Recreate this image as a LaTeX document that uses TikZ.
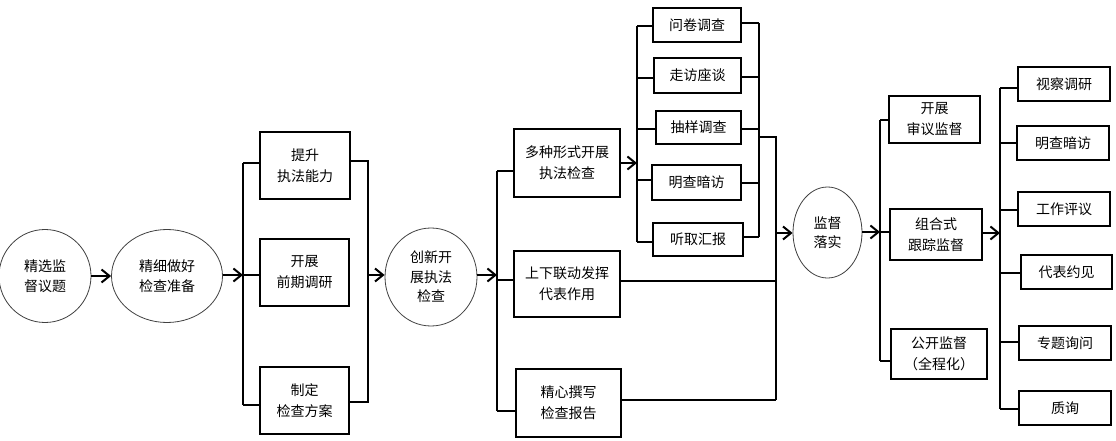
\documentclass[tikz,border=0pt]{standalone}
\usepackage{fontspec}
\newfontfamily\cjk{Noto Sans CJK SC}
\usetikzlibrary{shapes.geometric,arrows.meta}
\begin{document}
\begin{tikzpicture}[x=1pt,y=-1pt,
  every node/.style={font=\cjk\fontsize{14}{21}\selectfont, align=center, inner sep=0pt},
  ell/.style={ellipse, draw=black!75, line width=0.8pt, font=\cjk\fontsize{14}{19.5}\selectfont},
  bx/.style={draw, line width=2pt, minimum width=#1},
  bx/.default=90pt,
  ln/.style={line width=2pt},
  arr/.style={line width=2pt, -{Straight Barb[length=8pt,width=13pt,line width=2pt]}}]
\useasboundingbox (0,0) rectangle (1116,441);
% column 1
\node[ell, minimum width=92pt, minimum height=93pt] (c1) at (45,276) {精选监\\督议题};
\node[ell, minimum width=111pt, minimum height=93pt] (c2) at (167,276) {精细做好\\检查准备};
\draw[arr] (c1.east) -- (c2.west);
% bus 1
\coordinate (b1a) at (243,163);
\coordinate (b1m) at (243,275);
\coordinate (b1b) at (243,405);
\node[bx=90pt, minimum height=67pt] (p1) at (305,165.5) {提升\\执法能力};
\node[bx=89pt, minimum height=67pt] (p2) at (304.5,272.5) {开展\\前期调研};
\node[bx=89pt, minimum height=67pt] (p3) at (304.5,400.5) {制定\\检查方案};
\draw[arr] (c2.east |- b1m) -- (b1m);
\draw[ln] (b1a) -- (b1b);
\draw[ln] (b1a) -- (b1a -| p1.west);
\draw[ln] (b1m) -- (b1m -| p2.west);
\draw[ln] (b1b) -- (b1b -| p3.west);
\coordinate (r1a) at (368,161);
\coordinate (r1m) at (368,275);
\coordinate (r1b) at (368,402);
\draw[ln] (r1a -| p1.east) -- (r1a) -- (r1b) -- (r1b -| p3.east);
% column 3
\node[ell, minimum width=92pt, minimum height=98pt] (c3) at (431,277) {创新开\\展执法\\检查};
\draw[arr] (r1m) -- (r1m -| c3.west);
\coordinate (b2a) at (497,171);
\coordinate (b2m) at (497,275);
\coordinate (b2n) at (497,280);
\coordinate (b2b) at (497,411);
\draw[arr] (b2m -| c3.east) -- (b2m);
\node[bx=106pt, minimum height=68pt] (A) at (567,163) {多种形式开展\\执法检查};
\node[bx=106pt, minimum height=66pt] (B) at (567,284) {上下联动发挥\\代表作用};
\node[bx=105pt, minimum height=68pt] (C) at (568.5,403) {精心撰写\\检查报告};
\draw[ln] (b2a) -- (b2b);
\draw[ln] (b2a) -- (b2a -| A.west);
\draw[ln] (b2n) -- (b2n -| B.west);
\draw[ln] (b2b) -- (b2b -| C.west);
% small boxes
\coordinate (s0) at (637,163);
\draw[arr] (A.east |- s0) -- (s0);
\node[bx=88pt, minimum height=34pt] (s1) at (697,25) {问卷调查};
\node[bx=87pt, minimum height=35pt] (s2) at (697.5,75.5) {走访座谈};
\node[bx=85pt, minimum height=33pt] (s3) at (698.5,127.5) {抽样调查};
\node[bx=89pt, minimum height=35pt] (s4) at (696.5,182.5) {明查暗访};
\node[bx=90pt, minimum height=33pt] (s5) at (698,239.5) {听取汇报};
\coordinate (sl1) at (637,26);
\coordinate (sl2) at (637,78);
\coordinate (sl3) at (637,129);
\coordinate (sl4) at (637,180);
\coordinate (sl5) at (637,242);
\draw[ln] (sl1) -- (sl5);
\foreach \i in {1,...,5} \draw[ln] (sl\i) -- (sl\i -| s\i.west);
\coordinate (sr1) at (759,23);
\coordinate (sr2) at (759,77);
\coordinate (sr3) at (759,129);
\coordinate (sr4) at (759,183);
\coordinate (sr5) at (759,237);
\draw[ln] (sr1) -- (sr5);
\foreach \i in {1,...,5} \draw[ln] (sr\i) -- (sr\i -| s\i.east);
\coordinate (sx) at (759,137);
\coordinate (bt) at (776,137);
\coordinate (bB) at (776,281);
\coordinate (bC) at (776,400);
\coordinate (bm) at (776,233);
\draw[ln] (sx) -- (bt) -- (bC);
\draw[ln] (B.east |- bB) -- (bB);
\draw[ln] (C.east |- bC) -- (bC);
% column 4
\node[ell, minimum width=69pt, minimum height=91pt] (c4) at (827.5,232.5) {监督\\落实};
\draw[arr] (bm) -- (bm -| c4.west);
\coordinate (b3a) at (880,120);
\coordinate (b3m) at (880,232);
\coordinate (b3b) at (880,361);
\draw[arr] (b3m -| c4.east) -- (b3m);
\node[bx=91pt, minimum height=47pt] (R1) at (934.5,119.5) {开展\\审议监督};
\node[bx=92pt, minimum height=51pt] (R2) at (936,234.5) {组合式\\跟踪监督};
\node[bx=96pt, minimum height=50pt] (R3) at (939,354) {公开监督\\（全程化）};
\draw[ln] (b3a) -- (b3b);
\draw[ln] (b3a) -- (b3a -| R1.west);
\draw[ln] (b3m) -- (b3m -| R2.west);
\draw[ln] (b3b) -- (b3b -| R3.west);
% far right
\coordinate (b4m) at (1000,233);
\draw[arr] (R2.east |- b4m) -- (b4m);
\node[bx=92pt, minimum height=34pt] (f1) at (1064,84.5) {视察调研};
\node[bx=92pt, minimum height=34pt] (f2) at (1063,143) {明查暗访};
\node[bx=92pt, minimum height=34pt] (f3) at (1064,209) {工作评议};
\node[bx=91pt, minimum height=34pt] (f4) at (1066.5,272) {代表约见};
\node[bx=92pt, minimum height=34pt] (f5) at (1065,343) {专题询问};
\node[bx=92pt, minimum height=34pt] (f6) at (1065,408) {质询};
\coordinate (fl1) at (1000,88);
\coordinate (fl2) at (1000,143);
\coordinate (fl3) at (1000,210);
\coordinate (fl4) at (1000,273);
\coordinate (fl5) at (1000,342);
\coordinate (fl6) at (1000,409);
\draw[ln] (fl1) -- (fl6);
\foreach \i in {1,...,6} \draw[ln] (fl\i) -- (fl\i -| f\i.west);
\end{tikzpicture}
\end{document}
